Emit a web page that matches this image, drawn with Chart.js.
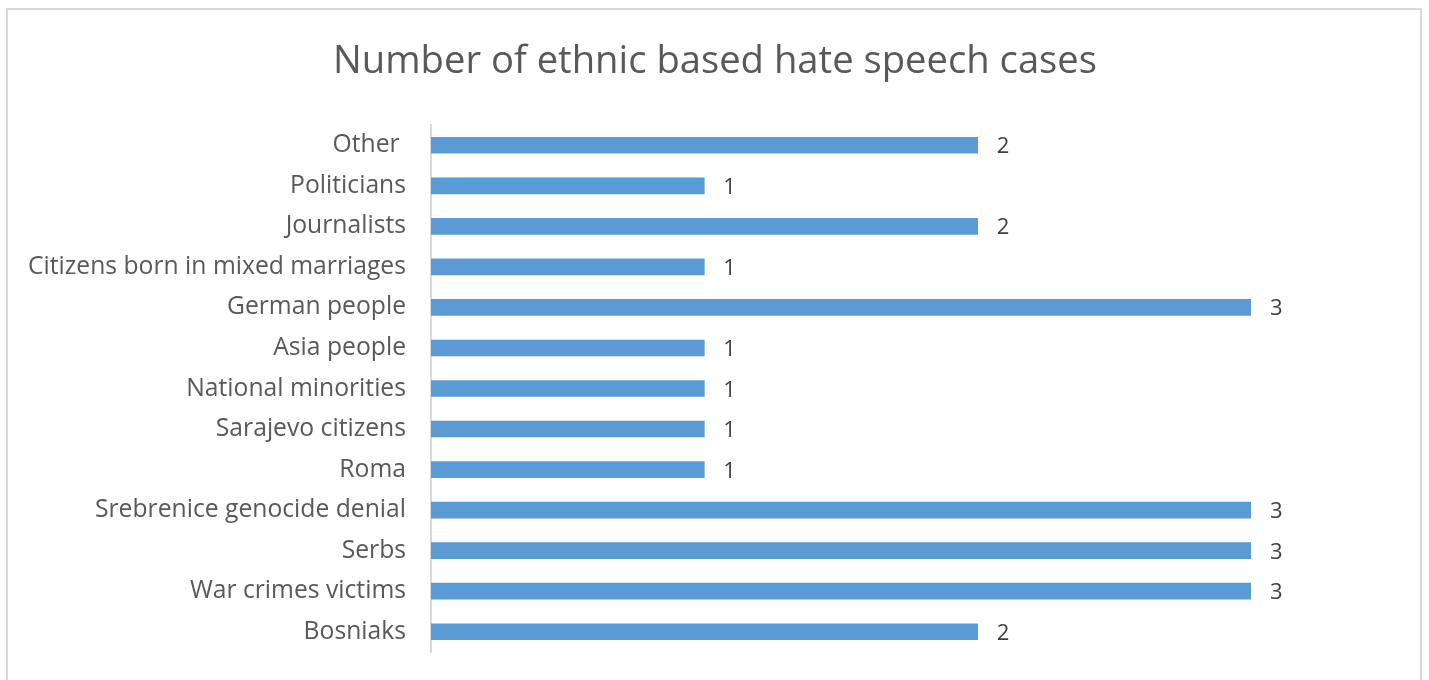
<!DOCTYPE html>
<html><head><meta charset="utf-8">
<script src="https://cdn.jsdelivr.net/npm/chart.js@4/dist/chart.umd.min.js"></script>
<style>html,body{margin:0;padding:0;background:#fff;}#wrap{width:1429px;height:680px;position:relative;}</style>
</head><body><div id="wrap"><canvas id="c" width="1429" height="680"></canvas></div>
<script>
const categories = ["Other ", "Politicians", "Journalists", "Citizens born in mixed marriages", "German people", "Asia people", "National minorities", "Sarajevo citizens", "Roma", "Srebrenice genocide denial", "Serbs", "War crimes victims", "Bosniaks"];
const cases = [2, 1, 2, 1, 3, 1, 1, 1, 1, 3, 3, 3, 2];
const titleText = "Number of ethnic based hate speech cases";

const FONT = "'Open Sans', 'DejaVu Sans', sans-serif";

const frame = {
  id: 'frame',
  beforeDraw(chart) {
    const ctx = chart.ctx;
    ctx.save();
    ctx.fillStyle = '#fff';
    ctx.fillRect(0, 0, chart.width, chart.height);
    ctx.strokeStyle = '#d9d9d9';
    ctx.lineWidth = 2;
    ctx.strokeRect(7, 9, 1414, 690);
    ctx.font = "38.2px " + FONT;
    ctx.fillStyle = '#595959';
    ctx.textAlign = 'center';
    ctx.textBaseline = 'alphabetic';
    ctx.fillText(titleText, 715, 73);
    ctx.restore();
  }
};
const valueLabels = {
  id: 'valueLabels',
  afterDatasetsDraw(chart) {
    const ctx = chart.ctx;
    const meta = chart.getDatasetMeta(0);
    ctx.save();
    ctx.font = "22px " + FONT;
    ctx.fillStyle = '#404040';
    ctx.textAlign = 'left';
    ctx.textBaseline = 'alphabetic';
    meta.data.forEach((bar, i) => {
      ctx.fillText(String(chart.data.datasets[0].data[i]), bar.x + 19, bar.y + 8);
    });
    ctx.restore();
  }
};

new Chart(document.getElementById('c'), {
  type: 'bar',
  data: { labels: categories, datasets: [{ data: cases, backgroundColor: '#5b9bd5', borderWidth: 0, barThickness: 16 }] },
  options: {
    indexAxis: 'y',
    responsive: false,
    animation: false,
    layout: { padding: { left: 0, right: 178, top: 125, bottom: 28 } },
    plugins: {
      legend: { display: false },
      tooltip: { enabled: false },
      title: { display: false }
    },
    scales: {
      x: { display: false, min: 0, max: 3 },
      y: {
        grid: { display: false, drawTicks: false },
        border: { display: true, color: '#d9d9d9', width: 2 },
        ticks: { color: '#595959', font: { family: FONT, size: 24.7 }, padding: 25 },
        afterFit(scale) { scale.width = 431; scale.paddingTop = 0; scale.paddingBottom = 0; }
      }
    }
  },
  plugins: [frame, valueLabels]
});
</script></body></html>
